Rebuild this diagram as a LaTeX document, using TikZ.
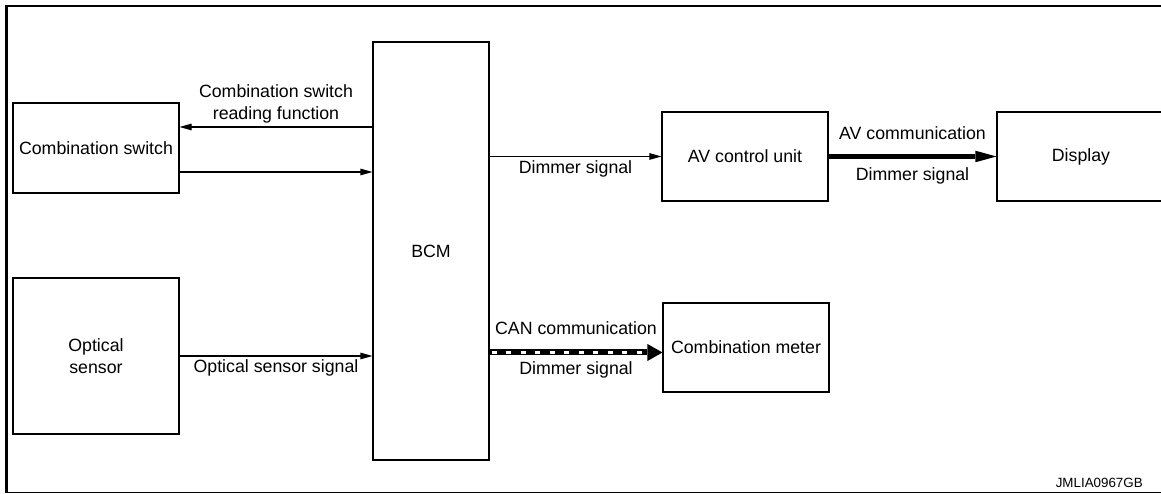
\documentclass[tikz,border=0pt]{standalone}
\usepackage{fontspec}
\setmainfont{Liberation Sans}
\usetikzlibrary{arrows.meta}

\begin{document}
\begin{tikzpicture}[
    unitbox/.style={draw, line width=0.6pt, inner sep=0pt, align=center},
    sigline/.style={line width=0.6pt, -{Triangle[length=0.24cm, width=0.13cm]}},
    avbus/.style={line width=0.09cm, -{Triangle[length=0.42cm, width=0.23cm, line width=0pt]}},
    canbus/.style={line width=0.12cm, -{Triangle[length=0.30cm, width=0.34cm, line width=0pt]}},
    canfill/.style={white, line width=0.06cm, dash pattern=on 0.10cm off 0.19cm},
    buslabel/.style={inner sep=2pt, align=center}
  ]
            \useasboundingbox (0,0) rectangle (23.22,9.88);
            \clip (0,0) rectangle (23.22,9.88);
            {\fontsize{10.1}{12.5}\selectfont

            % Drawing frame
            \draw [line width=1.5pt] (23.40,9.76) -- (0.125,9.76) -- (0.125,0.03);%
            \draw [line width=0.6pt] (0.10,0.03) -- (23.40,0.03);%

            % Drawing unit Combination switch
            \node [unitbox, minimum width=3.32cm, minimum height=1.80cm] (sw) at (1.92,6.92) {Combination switch};%

            % Drawing unit Optical sensor
            \node [unitbox, minimum width=3.32cm, minimum height=3.12cm] (opt) at (1.92,2.76) {Optical\\sensor};%

            % Drawing unit BCM
            \node [unitbox, minimum width=2.32cm, minimum height=8.36cm] (bcm) at (8.62,4.86) {BCM};%

            % Drawing unit AV control unit
            \node [unitbox, minimum width=3.32cm, minimum height=1.78cm] (av) at (14.90,6.75) {AV control unit};%

            % Drawing unit Display
            \node [unitbox, minimum width=3.36cm, minimum height=1.78cm] (disp) at (21.62,6.75) {Display};%

            % Drawing unit Combination meter
            \node [unitbox, minimum width=3.32cm, minimum height=1.78cm] (meter) at (14.92,2.93) {Combination meter};%

            % Drawing signal BCM sw (reading function)
            \coordinate (swA) at ([yshift=0.42cm]sw.east);%
            \draw [sigline] (swA -| bcm.west) -- (swA) node [buslabel, midway, above] {Combination switch\\reading function};%

            % Drawing signal sw BCM
            \coordinate (swB) at ([yshift=-0.48cm]sw.east);%
            \draw [sigline] (swB) -- (swB -| bcm.west);%

            % Drawing signal opt BCM
            \draw [sigline] (opt.east) -- (opt.east -| bcm.west) node [buslabel, midway, below] {Optical sensor signal};%

            % Drawing signal BCM av
            \draw [sigline] (av.west -| bcm.east) -- (av.west) node [buslabel, midway, below] {Dimmer signal};%

            % Drawing AV communication av disp
            \draw [avbus] (av.east) -- (disp.west)
                node [buslabel, midway, above=0.22cm] {AV communication}
                node [buslabel, midway, below=0.10cm] {Dimmer signal};%

            % Drawing CAN communication BCM meter
            \coordinate (canA) at ([yshift=-0.10cm]meter.west);%
            \coordinate (canB) at ([xshift=0.04cm]canA -| bcm.east);%
            \coordinate (canC) at ([xshift=-0.32cm]canA);%
            \draw [canbus] (canA -| bcm.east) -- (canA)
                node [buslabel, midway, above=0.22cm] {CAN communication}
                node [buslabel, midway, below=0.05cm] {Dimmer signal};%
            \draw [canfill] (canB) -- (canC);%

            % Marking figure code
            \node [anchor=east, inner sep=0pt, font=\fontsize{7.6}{9}\selectfont] (code) at (22.86,0.22) {JMLIA0967GB};%
            }
\end{tikzpicture}
\end{document}
